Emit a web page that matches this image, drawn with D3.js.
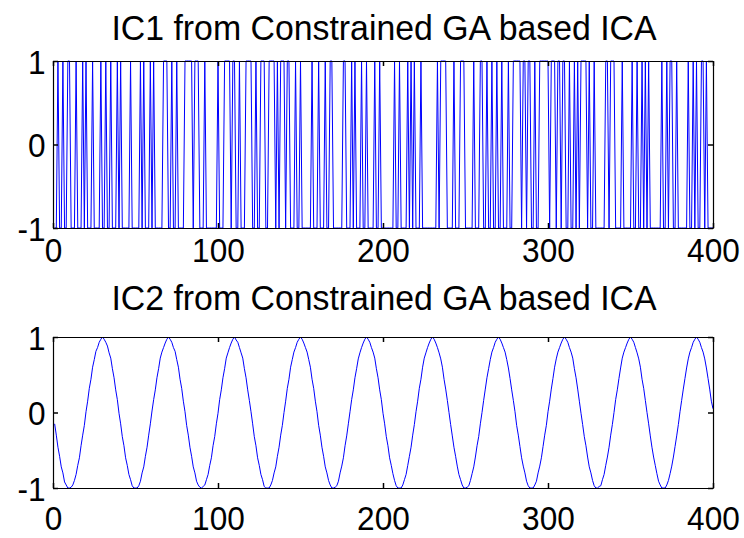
<!DOCTYPE html>
<html><head><meta charset="utf-8">
<script src="https://cdn.jsdelivr.net/npm/d3@7"></script>
<style>
html,body{margin:0;padding:0;background:#fff;}
svg{display:block;}
text{font-family:"Liberation Sans",Arial,Helvetica,sans-serif;fill:#000;}
</style></head>
<body><svg id="c" width="744" height="538"></svg>
<script>
// ---- data ----
const titles = ["IC1 from Constrained GA based ICA", "IC2 from Constrained GA based ICA"];
const xTicks = [0, 100, 200, 300, 400];
const yTicks = [-1, 0, 1];
const yTickLabels = ["-1", "0", "1"];

// IC1: binary sequence, samples 1..400
const ic1 = [
-1,-1,1,-1,-1,1,-1,-1,1,1,
-1,-1,-1,1,-1,-1,-1,1,-1,1,
-1,-1,-1,1,-1,-1,-1,-1,1,-1,
-1,1,-1,-1,1,-1,-1,-1,1,-1,
1,-1,-1,-1,-1,-1,1,-1,-1,-1,
-1,-1,1,-1,1,-1,-1,-1,1,-1,
1,-1,-1,-1,-1,-1,1,1,1,-1,
-1,1,-1,-1,1,-1,-1,-1,-1,1,
1,1,1,1,-1,1,1,1,-1,-1,
-1,1,-1,-1,-1,-1,-1,-1,-1,1,
-1,-1,-1,1,1,1,1,-1,1,1,
-1,-1,1,-1,-1,-1,1,1,1,1,
-1,-1,1,-1,-1,1,1,1,-1,-1,
1,1,1,1,-1,1,-1,1,1,1,
-1,1,1,-1,-1,-1,1,-1,-1,1,
-1,-1,-1,-1,-1,-1,1,-1,-1,-1,
1,-1,-1,-1,1,-1,-1,1,1,-1,
-1,-1,-1,-1,-1,1,1,-1,-1,-1,
1,-1,1,-1,-1,-1,1,-1,-1,1,
-1,-1,-1,-1,1,-1,-1,1,-1,-1,
-1,-1,-1,-1,-1,-1,1,-1,-1,1,
-1,-1,-1,-1,1,-1,1,-1,1,-1,
-1,-1,1,-1,-1,-1,-1,-1,-1,-1,
-1,-1,1,-1,1,1,1,1,-1,-1,
-1,-1,1,-1,-1,-1,1,1,1,-1,
-1,-1,-1,-1,1,-1,-1,-1,1,1,
-1,-1,1,-1,-1,1,-1,-1,1,-1,
-1,1,-1,-1,-1,1,-1,-1,1,1,
1,1,1,-1,1,1,-1,1,1,-1,
-1,1,-1,-1,1,1,1,1,1,1,
-1,1,1,1,-1,1,1,-1,1,1,
-1,-1,1,-1,-1,1,-1,1,-1,1,
1,1,1,-1,1,-1,-1,1,-1,-1,
-1,-1,-1,-1,1,1,-1,1,1,1,
-1,-1,-1,-1,1,-1,-1,-1,-1,-1,
1,-1,-1,1,-1,-1,1,-1,1,-1,
1,-1,-1,-1,-1,-1,-1,-1,1,-1,
-1,1,-1,1,1,-1,-1,1,-1,-1,
-1,-1,-1,-1,1,-1,-1,1,-1,1,
-1,-1,1,1,-1,1,-1,-1,-1,-1
];

// IC2: noisy sinusoid, samples 1..400
const ic2 = [
-0.15,-0.3,-0.46,-0.58,-0.72,-0.8,-0.92,-0.96,-1,
-1,-0.99,-0.96,-0.9,-0.82,-0.7,-0.6,-0.44,-0.3,-0.17,0.01,0.15,0.32,0.44,0.6,0.7,0.81,0.86,0.93,0.97,1,0.97,0.93,0.88,0.79,0.72,0.58,0.46,0.3,0.17,-0.01,-0.15,-0.32,-0.44,-0.6,-0.7,-0.82,-0.89,-0.97,-1,
-1,-1,-0.97,-0.91,-0.8,-0.72,-0.58,-0.46,-0.3,-0.15,0.02,0.17,0.3,0.46,0.58,0.72,0.8,0.86,0.92,0.97,1,0.97,0.93,0.86,0.81,0.7,0.6,0.44,0.32,0.15,0.01,-0.17,-0.3,-0.46,-0.58,-0.72,-0.8,-0.91,-0.96,-0.99,
-1,-0.98,-0.96,-0.89,-0.82,-0.7,-0.6,-0.44,-0.32,-0.15,-0.01,0.17,0.3,0.46,0.58,0.72,0.79,0.86,0.92,0.97,1,0.96,0.93,0.86,0.79,0.72,0.58,0.46,0.3,0.16,0.01,-0.15,-0.32,-0.44,-0.6,-0.7,-0.82,-0.89,-0.98,-1,
-1,-1,-0.96,-0.9,-0.8,-0.72,-0.58,-0.46,-0.3,-0.17,0,0.15,0.32,0.44,0.6,0.7,0.8,0.86,0.93,0.97,1,0.97,0.92,0.86,0.8,0.7,0.6,0.44,0.32,0.15,0.01,-0.17,-0.3,-0.46,-0.58,-0.72,-0.8,-0.9,-0.96,-1,
-1,-0.99,-0.97,-0.91,-0.8,-0.71,-0.6,-0.44,-0.31,-0.15,0.01,0.17,0.3,0.46,0.58,0.71,0.79,0.86,0.92,0.97,1,0.97,0.93,0.86,0.8,0.72,0.58,0.46,0.3,0.17,-0.01,-0.15,-0.32,-0.44,-0.6,-0.7,-0.81,-0.9,-0.97,-1,
-1,-1,-0.96,-0.89,-0.82,-0.7,-0.58,-0.46,-0.3,-0.16,0.01,0.15,0.32,0.44,0.6,0.72,0.79,0.86,0.92,0.97,1,0.97,0.92,0.86,0.79,0.71,0.6,0.44,0.31,0.16,0,-0.16,-0.31,-0.46,-0.58,-0.71,-0.82,-0.89,-0.96,-1,
-1,-0.99,-0.97,-0.9,-0.81,-0.72,-0.59,-0.44,-0.32,-0.15,0,0.16,0.31,0.46,0.58,0.7,0.8,0.86,0.93,0.97,1,0.97,0.92,0.86,0.8,0.7,0.59,0.45,0.3,0.16,0.01,-0.17,-0.3,-0.45,-0.6,-0.71,-0.8,-0.91,-0.97,-1,
-1,-1,-0.96,-0.91,-0.8,-0.71,-0.6,-0.45,-0.3,-0.17,0.01,0.15,0.31,0.45,0.6,0.71,0.8,0.86,0.92,0.97,1,0.97,0.93,0.86,0.8,0.72,0.58,0.46,0.31,0.15,-0.01,-0.16,-0.32,-0.44,-0.59,-0.72,-0.8,-0.9,-0.97,-1,
-1,-0.98,-0.97,-0.89,-0.82,-0.7,-0.59,-0.46,-0.3,-0.16,0,0.17,0.3,0.45,0.59,0.72,0.8,0.86,0.92,0.97,1,0.97,0.93,0.86,0.79,0.71,0.6,0.44,0.32,0.16,0,-0.15,-0.31,-0.46,-0.59,-0.7,-0.81,-0.91,-0.96,-1,
-1,-1,-0.96,-0.9,-0.81,-0.71,-0.59,-0.45,-0.31,-0.16,0.01,0.16,0.31,0.45,0.59,0.71,0.8,0.86,0.93,0.97,1,0.97,0.93,0.86,0.8,0.71,0.59,0.45,0.31,0.15,0.05
];

// ---- drawing ----
const svg = d3.select("#c");
const panels = [
  {data: ic1, title: titles[0], top: 61, bottom: 228, titleY: 40, xPad: 10},
  {data: ic2, title: titles[1], top: 337, bottom: 488, titleY: 310, xPad: 18}
];
const left = 53, right = 713;
const x = d3.scaleLinear().domain([0, 400]).range([left, right]);
const sx = 0.93;

panels.forEach(p => {
  const y = d3.scaleLinear().domain([-1, 1]).range([p.bottom, p.top]);
  const g = svg.append("g");

  g.append("path")
    .datum(p.data)
    .attr("fill", "none")
    .attr("stroke", "#0000ff")
    .attr("stroke-width", 1)
    .attr("d", d3.line().x((d, i) => x(i + 1)).y(d => y(d)));

  const ax = g.append("g").attr("transform", `translate(0,${p.bottom})`)
    .call(d3.axisBottom(x).tickValues(xTicks).tickFormat(d3.format("d")).tickSize(-5).tickSizeOuter(0).tickPadding(p.xPad));
  const axT = g.append("g").attr("transform", `translate(0,${p.top})`)
    .call(d3.axisTop(x).tickValues(xTicks).tickFormat("").tickSize(-5).tickSizeOuter(0));
  const ay = g.append("g").attr("transform", `translate(${left},0)`)
    .call(d3.axisLeft(y).tickValues(yTicks).tickFormat((d, i) => yTickLabels[i]).tickSize(-5).tickSizeOuter(0).tickPadding(8));
  const ayR = g.append("g").attr("transform", `translate(${right},0)`)
    .call(d3.axisRight(y).tickValues(yTicks).tickFormat("").tickSize(-5).tickSizeOuter(0));
  [ax, axT, ay, ayR].forEach(a => {
    a.selectAll(".domain").attr("stroke", "#000").attr("stroke-width", 1.2);
    a.selectAll(".tick line").attr("stroke", "#000").attr("stroke-width", 1.5);
    a.selectAll("text").attr("font-size", "34px").attr("font-family", "Liberation Sans, Arial, sans-serif").attr("fill", "#000");
  });
  ax.selectAll("text").attr("transform", `scale(${sx},1)`);
  ay.selectAll("text").attr("dy", "0.36em").attr("transform", `scale(${sx},1)`);

  g.append("text")
    .attr("transform", `translate(${(left + right) / 2 + 1},${p.titleY}) scale(0.94,1)`)
    .attr("text-anchor", "middle")
    .attr("font-size", "36px")
    .text(p.title);
});
</script></body></html>
